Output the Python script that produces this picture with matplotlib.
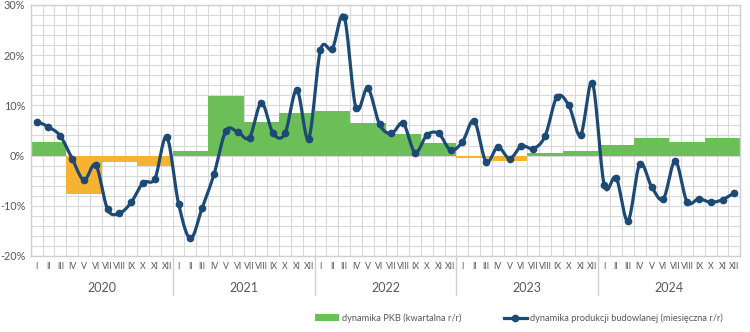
import matplotlib.pyplot as plt
import matplotlib.transforms as mtransforms
from matplotlib.patches import Patch
from matplotlib.lines import Line2D
import numpy as np

plt.rcParams['font.family'] = ['Lato', 'DejaVu Sans']

# Data
years = ['2020', '2021', '2022', '2023', '2024']
months = ['I', 'II', 'III', 'IV', 'V', 'VI', 'VII', 'VIII', 'IX', 'X', 'XI', 'XII']

# quarterly GDP dynamics (r/r, %)
pkb = [2.8, -7.7, -1.35, -2.0,
       0.9, 11.9, 6.6, 8.5,
       8.9, 6.5, 4.2, 2.6,
       -0.4, -1.0, 0.6, 1.0,
       2.1, 3.5, 2.8, 3.5]

# monthly construction output dynamics (r/r, %)
budowlana = [6.7, 5.7, 3.9, -0.6, -4.9, -1.9, -10.7, -11.5, -9.3, -5.4, -4.6, 3.7,
             -9.6, -16.5, -10.4, -3.7, 4.9, 4.7, 3.6, 10.5, 4.4, 4.4, 13.1, 3.4,
             21.0, 21.3, 27.7, 9.5, 13.4, 6.2, 4.4, 6.4, 0.6, 4.1, 4.4, 1.1,
             2.7, 6.9, -1.2, 1.7, -0.6, 1.9, 1.4, 3.9, 11.7, 10.0, 4.1, 14.4,
             -5.9, -4.4, -13.0, -1.7, -6.2, -8.6, -1.1, -9.2, -8.6, -9.3, -8.8, -7.5]

green = '#6cbf58'
orange = '#f8b232'
navy = '#1c4a74'
grey_txt = '#595959'
grid_col = '#d9d9d9'


def smooth_line(y, steps=16):
    # Catmull-Rom like Excel's smoothed line
    y = np.asarray(y, dtype=float)
    n = len(y)
    xs, ys = [], []
    for i in range(n - 1):
        p0 = y[i - 1] if i > 0 else y[i]
        p1, p2 = y[i], y[i + 1]
        p3 = y[i + 2] if i + 2 < n else y[i + 1]
        t = np.linspace(0, 1, steps, endpoint=False)
        seg = 0.5 * ((2 * p1) + (-p0 + p2) * t + (2 * p0 - 5 * p1 + 4 * p2 - p3) * t ** 2
                     + (-p0 + 3 * p1 - 3 * p2 + p3) * t ** 3)
        xs.extend(i + t)
        ys.extend(seg)
    xs.append(n - 1)
    ys.append(y[-1])
    return np.array(xs), np.array(ys)


fig = plt.figure(figsize=(7.5, 3.32), dpi=100)
ax = fig.add_axes([0.041, 0.229, 0.946, 0.756])

# quarterly bars
q_x = np.arange(len(pkb)) * 3 + 1
bar_cols = [green if v >= 0 else orange for v in pkb]
ax.bar(q_x, pkb, width=3, color=bar_cols, zorder=2, linewidth=0)

# monthly line
m_x = np.arange(len(budowlana))
sx, sy = smooth_line(budowlana)
ax.plot(sx, sy, color=navy, lw=2.3, zorder=3, solid_capstyle='round')
ax.plot(m_x, budowlana, 'o', color=navy, ms=4.5, zorder=4)

ax.set_xlim(-0.5, len(budowlana) - 0.5)
ax.set_ylim(-20, 30)

ax.set_yticks(np.arange(-20, 31, 10))
ax.set_yticklabels([f'{v}%' for v in range(-20, 31, 10)], fontsize=7.8, color=grey_txt)
ax.set_yticks(np.arange(-20, 31, 2), minor=True)
ax.set_xticks(np.arange(-0.5, 60, 1), minor=True)
ax.set_xticks(m_x)
ax.set_xticklabels(months * len(years), fontsize=6.3, color=grey_txt)
ax.tick_params(which='both', length=0)
ax.tick_params(axis='x', pad=4)
ax.tick_params(axis='y', pad=4)

ax.grid(which='minor', color=grid_col, lw=0.8)
ax.grid(which='major', axis='y', color=grid_col, lw=0.8)
ax.set_axisbelow(True)
for s in ax.spines.values():
    s.set_color('#cfcfcf')
    s.set_linewidth(1.0)

# year labels and separators
trans = mtransforms.blended_transform_factory(ax.transData, ax.transAxes)
for k, yr in enumerate(years):
    ax.text(k * 12 + 5.5, -0.127, yr, transform=trans, ha='center', va='center',
            fontsize=9, color=grey_txt)
    if k > 0:
        ax.plot([k * 12 - 0.5, k * 12 - 0.5], [0, -0.155], transform=trans,
                color='#cfcfcf', lw=1.0, clip_on=False)

handles = [Patch(facecolor=green, edgecolor='none'),
           Line2D([0], [0], color=navy, lw=2.3, marker='o', ms=4.5)]
fig.legend(handles, ['dynamika PKB (kwartalna r/r)',
                     'dynamika produkcji budowlanej (miesięczna r/r)'],
           loc='center', bbox_to_anchor=(0.692, 0.042), ncol=2, frameon=False,
           fontsize=6.7, labelcolor=grey_txt, columnspacing=4.6, handlelength=2.5,
           handletextpad=0.3)

fig.savefig('out.png', dpi=100)
